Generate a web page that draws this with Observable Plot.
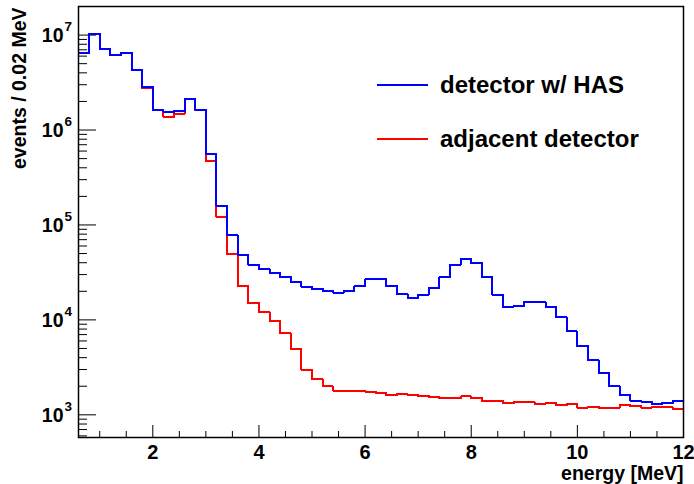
<!DOCTYPE html>
<html><head><meta charset="utf-8">
<script src="https://cdn.jsdelivr.net/npm/d3@7"></script>
<script src="https://cdn.jsdelivr.net/npm/@observablehq/plot@0.6"></script>
<style>html,body{margin:0;padding:0;background:#fff;}</style>
</head><body><div id="chart"></div>
<script>
// bin edges [MeV]
const binEdges = [0.6,0.8,1.0,1.2,1.4,1.6,1.8,2.0,2.2,2.4,2.6,2.8,3.0,3.2,3.4,3.6,3.8,4.0,4.2,4.4,4.6,4.8,5.0,5.2,5.4,5.6,5.8,6.0,6.2,6.4,6.6,6.8,7.0,7.2,7.4,7.6,7.8,8.0,8.2,8.4,8.6,8.8,9.0,9.2,9.4,9.6,9.8,10.0,10.2,10.4,10.6,10.8,11.0,11.2,11.4,11.6,11.8,12.0];
// detector w/ HAS
const blueCounts = [6.53e6,1.024e7,7.07e6,6.11e6,6.53e6,4.32e6,2.83e6,1.64e6,1.54e6,1.58e6,2.14e6,1.64e6,5.53e5,1.59e5,7.81e4,4.85e4,3.83e4,3.40e4,3.13e4,2.82e4,2.52e4,2.23e4,2.13e4,2.01e4,1.94e4,2.01e4,2.29e4,2.67e4,2.67e4,2.26e4,1.88e4,1.71e4,1.84e4,2.16e4,2.82e4,3.81e4,4.40e4,3.96e4,2.82e4,1.84e4,1.37e4,1.39e4,1.54e4,1.54e4,1.36e4,1.06e4,7550,5280,3760,2770,1990,1600,1400,1380,1310,1340,1400];
// adjacent detector
const redCounts = [6.53e6,1.024e7,7.07e6,6.11e6,6.53e6,4.32e6,2.74e6,1.61e6,1.37e6,1.48e6,2.14e6,1.61e6,4.67e5,1.21e5,4.92e4,2.26e4,1.50e4,1.22e4,9690,7190,4910,3000,2360,1990,1800,1800,1790,1760,1700,1620,1650,1620,1570,1530,1490,1490,1560,1510,1390,1410,1330,1370,1350,1290,1320,1270,1290,1190,1220,1190,1190,1270,1230,1190,1220,1200,1160];
const seriesNames = ["detector w/ HAS", "adjacent detector"];
const seriesColors = ["#0000ff", "#ff0000"];
const xMajor = [2,4,6,8,10,12];
const xMinor = [1,1.5,2.5,3,3.5,4.5,5,5.5,6.5,7,7.5,8.5,9,9.5,10.5,11,11.5];
const yMajor = [1e3,1e4,1e5,1e6,1e7];
const yDomain = [577, 2.0e7];
const yMinor = [];
for (const dec of [1e2,1e3,1e4,1e5,1e6,1e7]) for (let m = 2; m <= 9; m++) {
  const v = m*dec; if (v >= yDomain[0] && v <= yDomain[1]) yMinor.push(v);
}

const W = 694, H = 484, mL = 78, mR = 11, mT = 6, mB = 47;
const fw = W - mL - mR, fh = H - mT - mB;

const rows = [];
for (const [name, counts] of [[seriesNames[1], redCounts], [seriesNames[0], blueCounts]]) {
  counts.forEach((c, i) => rows.push({series: name, e: binEdges[i], n: c}));
  rows.push({series: name, e: binEdges[counts.length], n: counts[counts.length - 1]});
}

const font = "'Liberation Sans', Arial, Helvetica, sans-serif";
const plot = Plot.plot({
  width: W, height: H,
  marginLeft: mL, marginRight: mR, marginTop: mT, marginBottom: mB,
  style: {fontFamily: font, background: "#fff", overflow: "visible", color: "#000"},
  x: {domain: [0.6, 12], axis: null},
  y: {type: "log", domain: yDomain, axis: null},
  color: {domain: seriesNames, range: seriesColors},
  marks: [
    Plot.ruleX(xMajor, {x: d => d, insetTop: fh - 12, stroke: "#000", strokeWidth: 1}),
    Plot.ruleX(xMinor, {x: d => d, insetTop: fh - 6, stroke: "#000", strokeWidth: 1}),
    Plot.ruleY(yMajor, {y: d => d, insetRight: fw - 18, stroke: "#000", strokeWidth: 1}),
    Plot.ruleY(yMinor, {y: d => d, insetRight: fw - 9, stroke: "#000", strokeWidth: 1}),
    Plot.line(rows, {x: "e", y: "n", z: "series", stroke: "series", curve: "step-after", strokeWidth: 2, shapeRendering: "crispEdges"}),
    Plot.frame({stroke: "#000", strokeWidth: 1.5}),
    Plot.text(xMajor, {x: d => d, frameAnchor: "bottom", dy: 15, text: d => String(d), fontSize: 20, fontWeight: "bold", lineAnchor: "middle", fill: "#000"}),
    Plot.text(yMajor, {y: d => d, frameAnchor: "left", dx: -15, dy: 1, textAnchor: "end", text: () => "10", fontSize: 19.5, fontWeight: "bold", lineAnchor: "middle", fill: "#000"}),
    Plot.text(yMajor, {y: d => d, frameAnchor: "left", dx: -14, dy: -8, textAnchor: "start", text: d => String(Math.round(Math.log10(d))), fontSize: 13.5, fontWeight: "bold", lineAnchor: "middle", fill: "#000"}),
    Plot.text(["energy [MeV]"], {frameAnchor: "bottom-right", dx: 0, dy: 36, textAnchor: "end", fontSize: 19.5, fontWeight: "bold", lineAnchor: "middle", fill: "#000"}),
    Plot.text(["events / 0.02 MeV"], {frameAnchor: "top-left", rotate: -90, dx: -59, dy: 1, textAnchor: "end", fontSize: 19.5, fontWeight: "bold", lineAnchor: "middle", fill: "#000"})
  ]
});
document.getElementById("chart").appendChild(plot);

// legend
const svg = d3.select(plot);
const legY = [85, 139];
seriesNames.forEach((name, i) => {
  svg.append("line").attr("x1", 377).attr("x2", 428).attr("y1", legY[i]).attr("y2", legY[i])
    .attr("stroke", seriesColors[i]).attr("stroke-width", 2);
  svg.append("text").attr("x", 440).attr("y", legY[i]).attr("dy", "0.35em")
    .attr("text-anchor", "start")
    .attr("font-family", font).attr("font-weight", "bold").attr("font-size", 24)
    .attr("fill", "#000").text(name);
});
</script>
</body></html>
